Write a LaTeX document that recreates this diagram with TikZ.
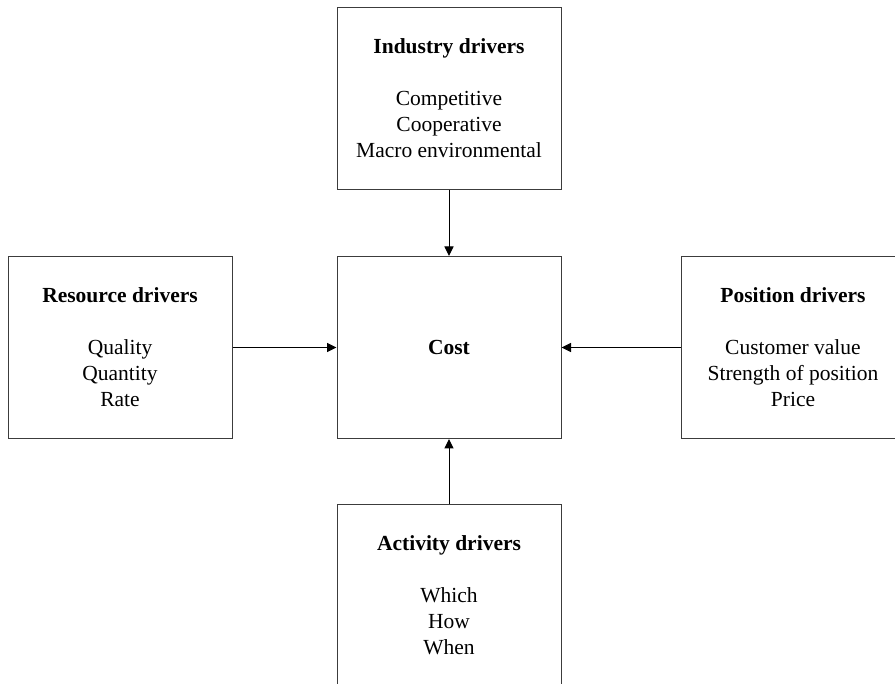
\documentclass[tikz,border=0pt]{standalone}
\usepackage{fontspec}
\setmainfont{Liberation Serif}
\usepackage{tikz}
\usetikzlibrary{arrows.meta,positioning}
\definecolor{boxline}{RGB}{60,60,60}
\tikzset{
  driverbox/.style={draw=boxline,line width=1pt,fill=white,
    minimum width=224pt,minimum height=182pt,align=center,inner sep=0pt,
    font=\fontsize{21.5}{26}\selectfont},
  driverarrow/.style={-{Triangle[length=9.5pt,width=9pt]},line width=1pt,draw=black},
}

\begin{document}
\begin{tikzpicture}[x=1pt,y=-1pt]
    \clip (0,0) rectangle (895,684);
    \fill[white] (0,0) rectangle (895,684);
    \node[driverbox] (cost) at (449,347.5) {\textbf{Cost}};
    \node[driverbox,above=66pt of cost] (industry)
      {\textbf{Industry drivers}\\[26pt]Competitive\\Cooperative\\Macro environmental};
    \node[driverbox,left=104pt of cost] (resource)
      {\textbf{Resource drivers}\\[26pt]Quality\\Quantity\\Rate};
    \node[driverbox,right=119pt of cost] (position)
      {\textbf{Position drivers}\\[26pt]Customer value\\Strength of position\\Price};
    \node[driverbox,below=65pt of cost] (activity)
      {\textbf{Activity drivers}\\[26pt]Which\\How\\When};
    \draw[driverarrow] (industry) -- (cost);
    \draw[driverarrow] (resource) -- (cost);
    \draw[driverarrow] (position) -- (cost);
    \draw[driverarrow] (activity) -- (cost);
\end{tikzpicture}
\end{document}
